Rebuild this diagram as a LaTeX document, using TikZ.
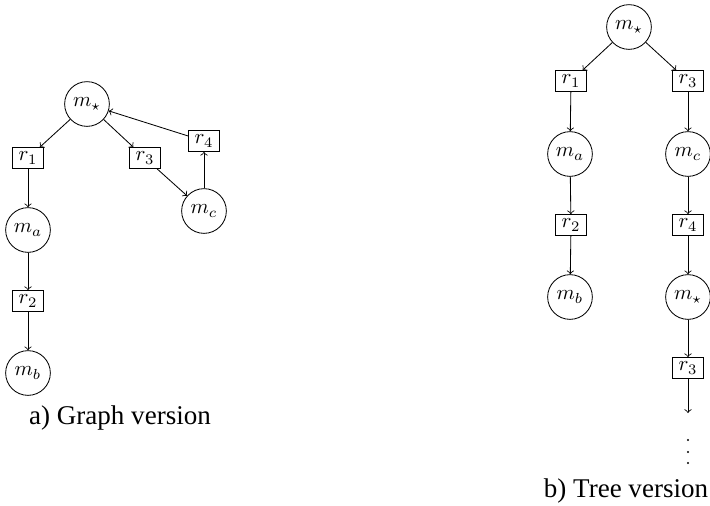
\documentclass[tikz,border=0pt]{standalone}
\usepackage{fontspec}
\newfontfamily\capfont{Liberation Serif}
\begin{document}
\begin{tikzpicture}[x=0.4808pt,y=-0.4808pt,
  mnode/.style={circle,draw,minimum size=21.5pt,inner sep=1pt},
  rnode/.style={rectangle,draw,minimum width=14.6pt,minimum height=10pt,inner sep=1pt},
  edge/.style={->},
  dotmark/.style={circle,fill,inner sep=0pt,minimum size=1.1pt},
  caption/.style={font=\capfont\fontsize{13}{15}\selectfont,inner sep=0pt,anchor=base}]
\useasboundingbox (0,0) rectangle (710,506);

% a) graph with a cycle back to m_star
\node[mnode] (gs) at (87,104) {$m_\star$};
\node[rnode] (g1) at (28,158) {$r_1$};
\node[rnode] (g3) at (145,158) {$r_3$};
\node[rnode] (g4) at (204,141) {$r_4$};
\node[mnode] (gc) at (204,211) {$m_c$};
\node[mnode] (ga) at (28,230) {$m_a$};
\node[rnode] (g2) at (28,301) {$r_2$};
\node[mnode] (gb) at (28,373) {$m_b$};
\draw[edge] (gs) -- (g1);
\draw[edge] (gs) -- (g3);
\draw[edge] (g3) -- (gc);
\draw[edge] (gc) -- (g4);
\draw[edge] (g4) -- (gs);
\draw[edge] (g1) -- (ga);
\draw[edge] (ga) -- (g2);
\draw[edge] (g2) -- (gb);
\node[caption] (capa) at (120,424) {a) Graph version};

% b) the same graph unfolded into a tree
\node[mnode] (ts) at (629,27) {$m_\star$};
\node[rnode] (t1) at (571,81) {$r_1$};
\node[rnode] (t3) at (688,81) {$r_3$};
\node[mnode] (ta) at (570,154) {$m_a$};
\node[mnode] (tc) at (688,154) {$m_c$};
\node[rnode] (t2) at (571,225) {$r_2$};
\node[rnode] (t4) at (688,225) {$r_4$};
\node[mnode] (tb) at (570,297) {$m_b$};
\node[mnode] (ts2) at (688,297) {$m_\star$};
\node[rnode] (t3b) at (688,368) {$r_3$};
\coordinate (tend) at (688,413);
% continuation dots below the last arrow
\node[dotmark] (tdot1) at (688,440) {};
\node[dotmark] (tdot2) at (688,452) {};
\node[dotmark] (tdot3) at (688,463) {};
\draw[edge] (ts) -- (t1);
\draw[edge] (ts) -- (t3);
\draw[edge] (t1) -- (ta);
\draw[edge] (ta) -- (t2);
\draw[edge] (t2) -- (tb);
\draw[edge] (t3) -- (tc);
\draw[edge] (tc) -- (t4);
\draw[edge] (t4) -- (ts2);
\draw[edge] (ts2) -- (t3b);
\draw[edge] (t3b) -- (tend);
\node[caption] (capb) at (626,497) {b) Tree version};
\end{tikzpicture}
\end{document}
